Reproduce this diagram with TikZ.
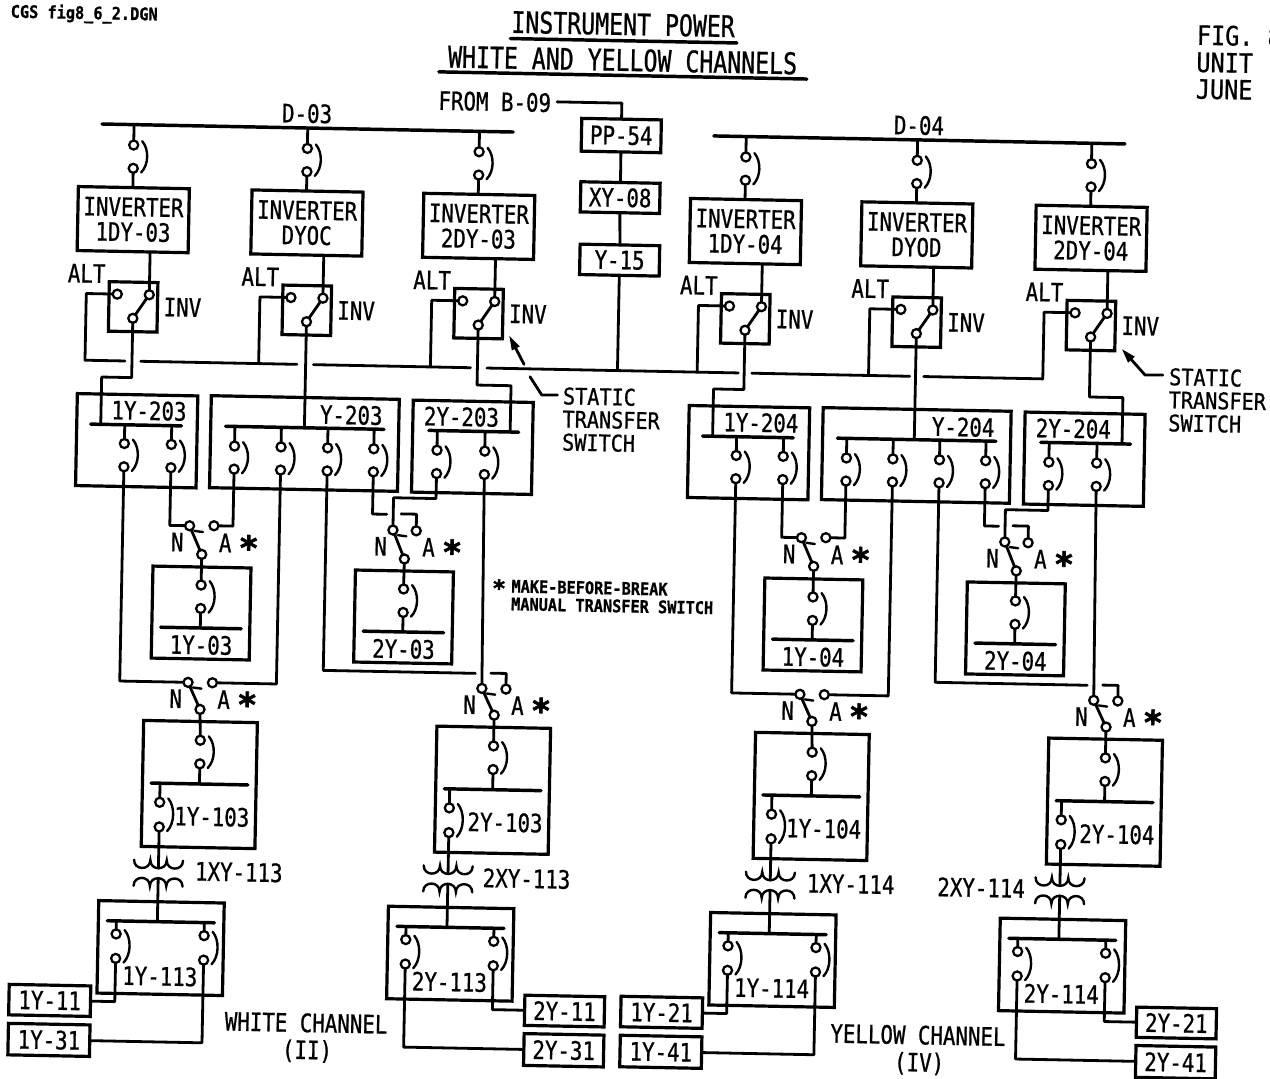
\documentclass[tikz,border=0pt]{standalone}
\usepackage{fontspec}
\usetikzlibrary{calc}
\newfontfamily\lab[FakeStretch=0.82,FakeBold=0.8]{DejaVu Sans Mono}
\newfontfamily\labt[FakeStretch=0.78,FakeBold=0.8]{DejaVu Sans Mono}
\newfontfamily\labw[FakeStretch=0.88,FakeBold=0.8]{DejaVu Sans Mono}
\newfontfamily\starf[FakeBold=2]{DejaVu Sans Mono}
\tikzset{
 wire/.style={line width=2.1pt,line cap=round,line join=round},
 thinw/.style={line width=1.8pt,line cap=round},
 barline/.style={line width=2.6pt,line cap=round},
 boxn/.style={draw,line width=2.4pt,inner sep=0pt,outer sep=0pt,align=center,lb},
 ct/.style={circle,draw,fill=white,line width=1.7pt,minimum size=6.8pt,inner sep=0pt,outer sep=0pt},
 lb/.style={font=\lab\fontsize{19}{18.75}\selectfont,inner sep=0pt},
 ttl/.style={font=\labt\fontsize{22.3}{24}\selectfont,inner sep=0pt},
 smal/.style={font=\labw\bfseries\fontsize{13}{13.3}\selectfont,inner sep=0pt,align=left},
 stat/.style={font=\labw\fontsize{17.2}{17.3}\selectfont,inner sep=0pt,align=left},
 figt/.style={font=\labw\fontsize{20}{19.5}\selectfont,inner sep=0pt,align=left},
 starn/.style={font=\starf\bfseries\fontsize{25}{25}\selectfont,inner sep=0pt},
 every node/.append style={transform shape}
}
\newcommand{\Bx}[6]{\node[boxn,minimum width={(#4-(#2))*0.75pt},minimum height={(#5-(#3))*0.75pt}] (#1) at ({((#2)+(#4))/2},{((#3)+(#5))/2}) {#6};}
\newcommand{\Lb}[4]{\node[lb] (#1) at (#2,#3) {#4};}
\newcommand{\Brk}[4]{\node[ct] (#1t) at (#2,#3) {};\node[ct] (#1b) at (#2,#4) {};
 \draw[thinw] ({#2+8.5},{#3-4}) .. controls ({#2+15.5},{#3+4}) and ({#2+15.5},{#4-4}) .. ({#2+8},{#4+4});}
\newcommand{\Bar}[4]{\coordinate (#1a) at (#2,#4);\coordinate (#1z) at (#3,#4);\draw[barline] (#1a) -- (#1z);}
% inverter column: prefix, u0, bus, text
\newcommand{\Inv}[4]{%
 \Brk{#1br}{#2+54.5}{142.4}{165.7}
 \Bx{#1iv}{#2}{185}{#2+111}{249}{INVERTER\\#4}
 \Bx{#1sw}{#2+32.8}{279.5}{#2+81.4}{329}{}
 \node[ct] (#1alt) at (#2+41,291.8) {};
 \node[ct] (#1inv) at (#2+73,291.8) {};
 \node[ct] (#1com) at (#2+57,315.7) {};
 \coordinate (#1altl) at (#2+10,358.5);
 \draw[wire] (#1brt |- #3a) -- (#1brt);
 \draw[wire] (#1brb) -- (#1brb |- #1iv.north);
 \draw[wire] (#1inv |- #1iv.south) -- (#1inv);
 \draw[wire] (#1com) -- (#1inv);
 \draw[wire] (#1alt) -| (#1altl);
 \Lb{#1altt}{#2+10}{271.6}{ALT}
 \Lb{#1invt}{#2+106.4}{303.7}{INV}
}
% manual transfer switch: prefix, N u,v, A u,v, C u,v
\newcommand{\Ats}[7]{%
 \node[ct] (#1N) at (#2,#3) {};
 \node[ct] (#1A) at (#4,#5) {};
 \node[ct] (#1C) at (#6,#7) {};
 \draw[wire] (#1N) -- (#1C);
 \draw[thinw] ({#2+5},{#3+5}) -- ({#2+13.5},{#3+6});
 \Lb{#1Nt}{#2-12}{#3+16.5}{N}
 \Lb{#1At}{#2+36}{#3+16.5}{A}
 \node[starn] (#1St) at (#2+59.5,#3+20.5) {*};
}
% 1Y-03 type panel: prefix, box left, text, common node
\newcommand{\Mid}[4]{%
 \Bx{#1bx}{#2}{563}{#2+98}{655}{}
 \Brk{#1k}{#2+48.5}{581}{604.5}
 \Bar{#1bs}{#2+8.9}{#2+89.4}{624}
 \draw[wire] (#4) -- (#1kt);
 \draw[wire] (#1kb) -- (#1kb |- #1bsa);
 \Lb{#1tx}{#2+49.6}{641}{#3}
}
% 1Y-103 + transformer + 1Y-113: prefix, U1, Uc, common, text103, text113
\newcommand{\Low}[6]{%
 \Bx{#1bx}{#2}{717.5}{#2+113.7}{843.5}{}
 \Brk{#1k}{#2+57}{736.2}{759.8}
 \Bar{#1bs}{#2+8.6}{#2+105.4}{780}
 \Brk{#1m}{#3}{799}{823.7}
 \draw[wire] (#4) -- (#1kt);
 \draw[wire] (#1kb) -- (#1kb |- #1bsa);
 \draw[wire] (#1mt |- #1bsa) -- (#1mt);
 \Lb{#1tx}{#2+70}{812.5}{#5}
 \coordinate (#1tp) at (#3,865);
 \coordinate (#1ts) at (#3,875);
 \draw[wire] (#1mb) -- (#1tp);
 \draw[thinw] ({#3-24.5},857) .. controls ({#3-24.5},867.7) and ({#3-8.2},867.7) .. ({#3-8.2},857)
   .. controls ({#3-8.2},867.7) and ({#3+8.2},867.7) .. ({#3+8.2},857)
   .. controls ({#3+8.2},867.7) and ({#3+24.5},867.7) .. ({#3+24.5},857);
 \draw[thinw] ({#3-24.5},883) .. controls ({#3-24.5},872.3) and ({#3-8.2},872.3) .. ({#3-8.2},883)
   .. controls ({#3-8.2},872.3) and ({#3+8.2},872.3) .. ({#3+8.2},883)
   .. controls ({#3+8.2},872.3) and ({#3+24.5},872.3) .. ({#3+24.5},883);
 \Bx{#1cb}{#3-59}{898.5}{#3+66.5}{991}{}
 \Bar{#1cs}{#3-50}{#3+57}{918.5}
 \draw[wire] (#1ts) -- (#1ts |- #1csa);
 \Brk{#1l}{#3-41}{931.5}{956}
 \Brk{#1r}{#3+47}{931.5}{956}
 \draw[wire] (#1lt |- #1csa) -- (#1lt);
 \draw[wire] (#1rt |- #1csa) -- (#1rt);
 \Lb{#1ty}{#3+3.5}{973}{#6}
}
% one channel group
\newcommand{\Group}[9]{%
 \Bar{#1bus}{104.4}{515.6}{122}
 \Inv{#1A}{#2}{#1bus}{1DY-#5}
 \Inv{#1B}{#3}{#1bus}{\midinv}
 \Inv{#1C}{#4}{#1bus}{2DY-#5}
 \Lb{#1dbus}{309.3}{107.5}{#9}
 % distribution panels
 \Bx{#1p1}{85}{392}{205.5}{484}{}
 \Bx{#1p2}{219}{391.5}{407}{483.5}{}
 \Bx{#1p3}{421}{392}{541}{484}{}
 \Lb{#1pt1}{157}{407.8}{1Y-#6}
 \Lb{#1pt2}{359.3}{408.2}{Y-#6}
 \Lb{#1pt3}{469.5}{407.7}{2Y-#6}
 \Bar{#1b1}{99}{189.7}{422.3}
 \Bar{#1b2}{233.8}{392.3}{421.8}
 \Bar{#1b3}{437.2}{527}{422}
 \Brk{#1s1}{133}{441}{464.3}
 \Brk{#1s2}{180}{441}{464.3}
 \Brk{#1y1}{243.2}{441.4}{464.5}
 \Brk{#1y2}{289.7}{441.4}{464.5}
 \Brk{#1y3}{336.3}{441.4}{464.5}
 \Brk{#1y4}{382.5}{441.4}{464.5}
 \Brk{#1z1}{445.7}{441.6}{465}
 \Brk{#1z2}{493.5}{441.6}{465}
 \foreach \cc/\bb in {s1/b1,s2/b1,y1/b2,y2/b2,y3/b2,y4/b2,z1/b3,z2/b3}{
  \draw[wire] (#1\cc t |- #1\bb a) -- (#1\cc t);}
 % feeds from static switches
 \coordinate (#1fa) at (109,375);
 \coordinate (#1fc) at (518.5,375.7);
 \draw[wire] (#1Acom) |- (#1fa) -- (#1fa |- #1b1a);
 \draw[wire] (#1Bcom) -- (#1Bcom |- #1b2a);
 \draw[wire] (#1Ccom) |- (#1fc) -- (#1fc |- #1b3a);
 % manual transfer switches
 \Ats{#1u1}{199.8}{522}{224.2}{521.5}{212.5}{550.4}
 \Ats{#1u2}{403.2}{522.3}{426.5}{522.6}{415.2}{551}
 \Ats{#1u3}{201.3}{678.6}{225.7}{678.5}{213.8}{705.4}
 \Ats{#1u4}{495.2}{678.9}{519.3}{679.1}{508}{705.4}
 \Mid{#1m1}{164}{1Y-#5}{#1u1C}
 \Mid{#1m2}{366.5}{2Y-#5}{#1u2C}
 \draw[wire] (#1s2b) |- (#1u1N);
 \draw[wire] (#1u1A) -| (#1y1b);
 \coordinate (#1p4a) at (396.7,506.7);
 \coordinate (#1p4b) at (411,506);
 \draw[wire] (#1y4b) |- (#1p4a);
 \draw[wire] (#1p4b) -| (#1u2A);
 \coordinate (#1p5) at (445.7,490);
 \draw[wire] (#1z1b) -- (#1p5) -| (#1u2N);
 \draw[wire] (#1s1b) |- (#1u3N);
 \draw[wire] (#1u3A) -| (#1y2b);
 \coordinate (#1p6a) at (488.4,664);
 \coordinate (#1p6b) at (503.9,663.5);
 \draw[wire] (#1y3b) |- (#1p6a);
 \draw[wire] (#1p6b) -| (#1u4A);
 \draw[wire] (#1z2b) -- (#1u4N);
 % lower panels
 \Low{#1q1}{157.7}{175.3}{#1u3C}{1Y-#7}{1Y-#8}
 \Low{#1q2}{451}{465}{#1u4C}{2Y-#7}{2Y-#8}
 \Lb{#1x1}{255.8}{867.3}{1XY-#8}
 \Lb{#1x2}{\txu}{868.3}{2XY-#8}
 \Bx{#1o1}{28.4}{984}{110}{1014.5}{1Y-\ones}
 \Bx{#1o2}{28.4}{1023}{110}{1054.5}{1Y-\threes}
 \Bx{#1o3}{544.2}{984.8}{624}{1015}{2Y-\ones}
 \Bx{#1o4}{544.2}{1023.2}{624}{1055}{2Y-\threes}
 \draw[wire] (#1q1lb) |- (#1o1.east);
 \draw[wire] (#1q1rb) |- (#1o2.east);
 \draw[wire] (#1q2rb) |- (#1o3.west);
 \draw[wire] (#1q2lb) |- (#1o4.west);
}
\begin{document}
\begin{tikzpicture}[x=0.75pt,y=-0.75pt]
\clip (0,0) rectangle (1270,1078);
\useasboundingbox (0,0) rectangle (1270,1078);
\begin{scope}[rotate=-1.117]
 % titles
 \node[ttl] (t1) at (623.5,12) {INSTRUMENT POWER};
 \node[ttl] (t2) at (623.7,47.9) {WHITE AND YELLOW CHANNELS};
 \coordinate (t1a) at (511,28.6); \coordinate (t1z) at (737.7,28.6);
 \coordinate (t2a) at (440.2,63.3); \coordinate (t2z) at (808.2,63.3);
 \draw[barline] (t1a) -- (t1z);
 \draw[barline] (t2a) -- (t2z);
 \node[smal,anchor=center] (fn) at (84.5,12.4) {CGS fig8\_6\_2.DGN};
 \node[figt,anchor=west] (f1) at (1197.2,11.7) {FIG. 8};
 \node[figt,anchor=west] (f2) at (1197.2,39) {UNIT};
 \node[figt,anchor=west] (f3) at (1197.2,65.7) {JUNE};
 % groups
 \def\midinv{DYOC}\def\ones{11}\def\threes{31}\def\txu{543.6}
 \Group{a}{82}{255.7}{427.5}{03}{203}{103}{113}{D-03}
 \begin{scope}[shift={(612,0)}]
  \def\midinv{DYOD}\def\ones{21}\def\threes{41}\def\txu{386.3}
  \Group{b}{82.3}{253.7}{428}{04}{204}{104}{114}{D-04}
 \end{scope}
 % transfer bus with gaps
 \foreach \nn/\ua/\ub in {0/92/132,1/147.7/304,2/320.5/477.6,3/494/745.5,4/759/917,5/931/1050}{
  \coordinate (tb\nn a) at (\ua,358.5);
  \coordinate (tb\nn z) at (\ub,358.5);
  \draw[wire] (tb\nn a) -- (tb\nn z);
 }
 % centre column
 \node[lb] (from) at (496.7,92) {FROM B-09};
 \Bx{pp}{584}{107}{663.6}{139.8}{PP-54}
 \Bx{xy}{584.3}{170.4}{663.6}{200.6}{XY-08}
 \Bx{yf}{584.8}{232.8}{664.4}{263.2}{Y-15}
 \coordinate (fromw) at (559,91);
 \draw[wire] (fromw) -| (pp.north);
 \draw[wire] (pp.south) -- (xy.north);
 \draw[wire] (xy.south) -- (yf.north);
 \draw[wire] (yf.south) -- (yf.south |- tb3a);
 % static transfer switch labels
 \node[stat,anchor=west] (st1) at (570.4,408) {STATIC\\TRANSFER\\SWITCH};
 \node[stat,anchor=west] (st2) at (1176.1,377) {STATIC\\TRANSFER\\SWITCH};
 \coordinate (a1t) at (515.9,326.1); \coordinate (a1m) at (531.1,354.1);
 \coordinate (a1n) at (537.3,366.4); \coordinate (a1e) at (549.4,384.4); \coordinate (a1f) at (565,384.1);
 \coordinate (a2t) at (1128.8,327.4); \coordinate (a2e) at (1152.3,352.7); \coordinate (a2f) at (1170,352.3);
 \draw[wire] (a1n) -- (a1e) -- (a1f);
 \draw[wire] (a1m) -- ($(a1t)!0.4!(a1m)$);
 \fill (a1t) -- ($(a1t)!11pt!18:(a1m)$) -- ($(a1t)!11pt!-18:(a1m)$) -- cycle;
 \draw[wire] (a2f) -- (a2e) -- ($(a2t)!0.4!(a2e)$);
 \fill (a2t) -- ($(a2t)!11pt!18:(a2e)$) -- ($(a2t)!11pt!-18:(a2e)$) -- cycle;
 % note
 \node[starn,font=\starf\bfseries\fontsize{17}{17}\selectfont] (ns) at (510.4,578) {*};
 \node[smal,anchor=west] (nt) at (522.6,585) {MAKE-BEFORE-BREAK\\MANUAL TRANSFER SWITCH};
 % channel names
 \node[lb] (wc1) at (326,1016.7) {WHITE CHANNEL};
 \node[lb] (wc2) at (327.5,1045) {(II)};
 \node[lb] (yc1) at (938,1017) {YELLOW CHANNEL};
 \node[lb] (yc2) at (939.7,1045.5) {(IV)};
\end{scope}
\end{tikzpicture}
\end{document}
